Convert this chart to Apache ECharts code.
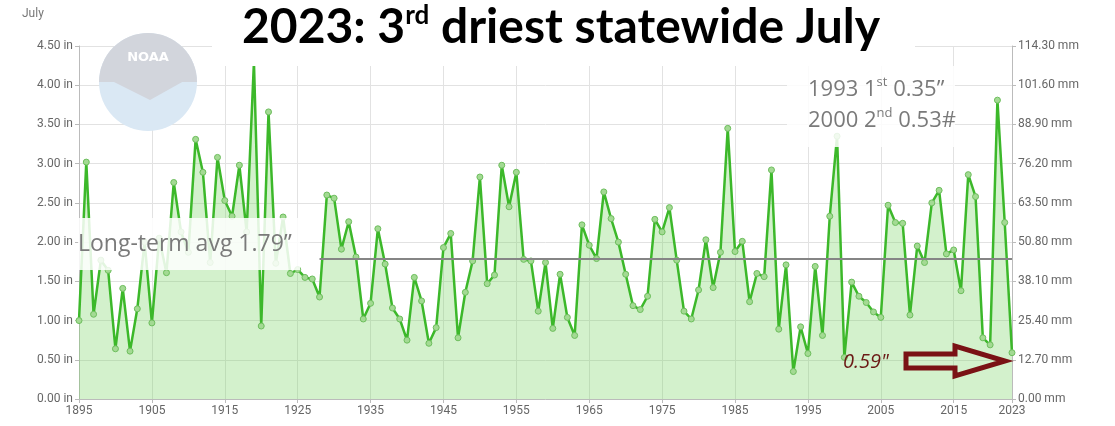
<!DOCTYPE html>
<html>
<head>
<meta charset="utf-8">
<script src="https://cdn.jsdelivr.net/npm/echarts@6/dist/echarts.min.js"></script>
<style>
  html, body { margin: 0; padding: 0; background: #fff; }
  #main { width: 1115px; height: 426px; }
</style>
</head>
<body>
<div id="main"></div>
<script>
// July statewide precipitation (inches), 1895 - 2023
const firstYear = 1895
const lastYear = 2023
const precip = [
  1.00, 3.02, 1.08, 1.77, 1.64, 0.64, 1.41, 0.61, 1.15, 2.00, // 1895-1904
  0.97, 2.05, 1.61, 2.76, 2.13, 1.87, 3.31, 2.89, 1.74, 3.08, // 1905-1914
  2.53, 2.33, 2.98, 2.13, 4.30, 0.93, 3.66, 1.73, 2.32, 1.60, // 1915-1924
  1.65, 1.55, 1.53, 1.30, 2.60, 2.56, 1.91, 2.26, 1.81, 1.02, // 1925-1934
  1.22, 2.17, 1.72, 1.16, 1.02, 0.75, 1.55, 1.25, 0.71, 0.91, // 1935-1944
  1.93, 2.11, 0.78, 1.36, 1.76, 2.83, 1.47, 1.58, 2.98, 2.45, // 1945-1954
  2.89, 1.78, 1.76, 1.12, 1.74, 0.90, 1.59, 1.04, 0.81, 2.22, // 1955-1964
  1.96, 1.79, 2.64, 2.30, 2.00, 1.59, 1.19, 1.14, 1.31, 2.29, // 1965-1974
  2.13, 2.44, 1.77, 1.12, 1.02, 1.39, 2.03, 1.42, 1.87, 3.45, // 1975-1984
  1.88, 2.01, 1.24, 1.60, 1.56, 2.92, 0.89, 1.71, 0.35, 0.92, // 1985-1994
  0.58, 1.69, 0.81, 2.33, 3.35, 0.53, 1.49, 1.31, 1.23, 1.11, // 1995-2004
  1.04, 2.47, 2.25, 2.24, 1.07, 1.95, 1.74, 2.50, 2.66, 1.85, // 2005-2014
  1.90, 1.38, 2.86, 2.58, 0.78, 0.69, 3.81, 2.25, 0.59        // 2015-2023
]
const longTermAvg = 1.79
const avgLineStart = 1928
const inchTicks = [0, 4.5, 0.5]      // min, max, interval
const mmTicks = [0, 114.3, 12.7]

let years = []
for (let y = firstYear; y <= lastYear; y++) years.push(y)
let seriesData = years.map((y, i) => [y, precip[i]])

let myChart = echarts.init(document.getElementById('main'))
let axisText = { color: '#666', fontSize: 12, fontFamily: 'Roboto' }
let grayText = '#7a7a7a'

let option = {
  animation: false,
  grid: { left: 79, right: 103, top: 46, bottom: 27 },
  xAxis: {
    type: 'value',
    min: firstYear,
    max: lastYear,
    interval: 10,
    axisLine: { show: true, lineStyle: { color: '#bbb' } },
    axisTick: { show: true, length: 4, lineStyle: { color: '#bbb' } },
    axisLabel: Object.assign({ margin: 6, formatter: v => String(v), showMaxLabel: true }, axisText),
    splitLine: { show: true, lineStyle: { color: '#e2e2e2' } }
  },
  yAxis: [
    {
      type: 'value',
      min: inchTicks[0], max: inchTicks[1], interval: inchTicks[2],
      axisLine: { show: true, lineStyle: { color: '#bbb' } },
      axisTick: { show: true, length: 4, lineStyle: { color: '#bbb' } },
      axisLabel: Object.assign({ margin: 6, formatter: v => v.toFixed(2) + ' in' }, axisText),
      splitLine: { show: true, lineStyle: { color: '#e2e2e2' } }
    },
    {
      type: 'value',
      position: 'right',
      min: mmTicks[0], max: mmTicks[1], interval: mmTicks[2],
      axisLine: { show: true, lineStyle: { color: '#bbb' } },
      axisTick: { show: true, length: 4, lineStyle: { color: '#bbb' } },
      axisLabel: Object.assign({ margin: 6, formatter: v => v.toFixed(2) + ' mm' }, axisText),
      splitLine: { show: false }
    }
  ],
  series: [
    {
      type: 'line',
      data: seriesData,
      symbol: 'circle',
      symbolSize: 6,
      lineStyle: { color: '#3cb82a', width: 2.5 },
      itemStyle: { color: '#a3da93', borderColor: '#6cbd5c', borderWidth: 1 },
      areaStyle: { color: 'rgba(115,212,95,0.45)' },
      markLine: {
        silent: true,
        symbol: 'none',
        label: { show: false },
        lineStyle: { color: '#858585', width: 2, type: 'solid' },
        data: [[{ coord: [avgLineStart, longTermAvg] }, { coord: [lastYear, longTermAvg] }]]
      }
    }
  ],
  graphic: [
    // NOAA logo watermark
    { type: 'circle', shape: { cx: 148, cy: 82, r: 49 }, style: { fill: '#dae8f4' }, z: 1 },
    { type: 'sector', shape: { cx: 148, cy: 82, r: 49, startAngle: Math.PI, endAngle: Math.PI * 2 }, style: { fill: '#d2d5dc' }, z: 1 },
    { type: 'polygon', shape: { points: [[112, 81], [184, 81], [150, 100]] }, style: { fill: '#d2d5dc' }, z: 1 },
    { type: 'text', x: 148, y: 58, style: { text: 'NOAA', fill: '#fff', font: 'bold 13px "DejaVu Sans"', align: 'center', verticalAlign: 'middle' }, z: 1 },
    // white panels behind title and notes
    { type: 'rect', shape: { x: 212, y: 0, width: 703, height: 66 }, style: { fill: '#fff' }, z: 50 },
    { type: 'rect', shape: { x: 787, y: 66, width: 168, height: 81 }, style: { fill: 'rgba(255,255,255,0.85)' }, z: 50 },
    { type: 'rect', shape: { x: 78, y: 218, width: 222, height: 52 }, style: { fill: 'rgba(255,255,255,0.85)' }, z: 50 },
    {
      type: 'text', x: 561, y: 28, z: 60,
      style: {
        text: '{a|2023: 3}{s|rd}{a| driest statewide July}',
        align: 'center', verticalAlign: 'middle',
        rich: {
          a: { fontFamily: 'Lato', fontWeight: 'bold', fontSize: 48, fill: '#000', lineHeight: 50 },
          s: { fontFamily: 'Lato', fontWeight: 'bold', fontSize: 26, fill: '#000', verticalAlign: 'top', lineHeight: 50 }
        }
      }
    },
    { type: 'text', x: 22, y: 14, z: 60, style: { text: 'July', fill: '#777', font: '12px Roboto', verticalAlign: 'middle' } },
    {
      type: 'text', x: 78, y: 244, z: 60,
      style: { text: 'Long-term avg 1.79\u201d', fill: grayText, font: '23px "Open Sans"', verticalAlign: 'middle' }
    },
    {
      type: 'text', x: 808, y: 90, z: 60,
      style: {
        text: '{a|1993 1}{s|st}{a| 0.35\u201d}',
        verticalAlign: 'middle',
        rich: {
          a: { fontFamily: 'Open Sans', fontSize: 22, fill: grayText, lineHeight: 28 },
          s: { fontFamily: 'Open Sans', fontSize: 13, fill: grayText, verticalAlign: 'top', lineHeight: 28 }
        }
      }
    },
    {
      type: 'text', x: 808, y: 121, z: 60,
      style: {
        text: '{a|2000 2}{s|nd}{a| 0.53#}',
        verticalAlign: 'middle',
        rich: {
          a: { fontFamily: 'Open Sans', fontSize: 22, fill: grayText, lineHeight: 28 },
          s: { fontFamily: 'Open Sans', fontSize: 13, fill: grayText, verticalAlign: 'top', lineHeight: 28 }
        }
      }
    },
    {
      type: 'text', x: 843, y: 362, z: 60,
      style: { text: '0.59"', fill: '#6b1a16', font: 'italic 20px "Open Sans"', verticalAlign: 'middle' }
    },
    {
      type: 'polygon', z: 60,
      shape: { points: [[906, 354], [955, 354], [955, 346], [1005, 361], [955, 376], [955, 368], [906, 368]] },
      style: { fill: 'transparent', stroke: '#7a1215', lineWidth: 5, lineJoin: 'miter' }
    }
  ]
}

myChart.setOption(option)
</script>
</body>
</html>
